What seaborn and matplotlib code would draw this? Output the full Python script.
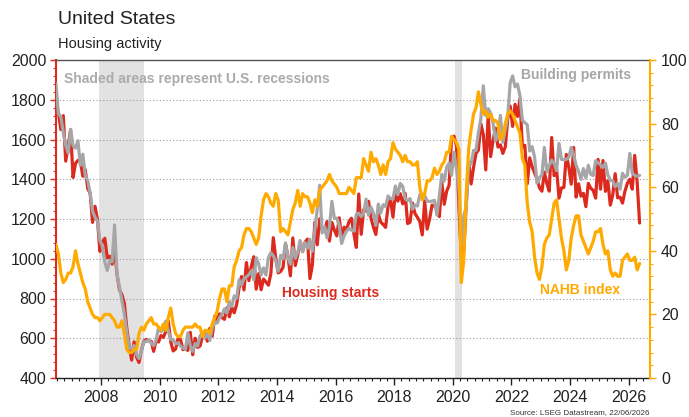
import numpy as np
import pandas as pd
import matplotlib
matplotlib.use("Agg")
import matplotlib.pyplot as plt
import seaborn as sns
from matplotlib.ticker import MultipleLocator

sns.set_theme(style="white")
plt.rcParams["font.family"] = ["Liberation Sans", "DejaVu Sans"]

# ---------------- data (monthly, Jun 2006 .. May 2026) ----------------
first_year, first_month = 2006, 6

starts = [
    1780, 1737, 1650, 1720, 1491, 1570, 1649,
    1409, 1480, 1495, 1490, 1415, 1448, 1354, 1330, 1183, 1264, 1197, 1037,
    1084, 1103, 1005, 1013, 973, 1046, 923, 844, 820, 777, 652, 560,
    490, 582, 505, 478, 540, 585, 594, 586, 585, 534, 588, 581,
    614, 604, 636, 687, 583, 536, 546, 599, 594, 543, 545, 539,
    630, 517, 600, 554, 561, 608, 623, 585, 650, 610, 711, 694,
    723, 704, 695, 753, 708, 757, 728, 770, 854, 911, 843, 981,
    890, 962, 1010, 847, 925, 844, 898, 883, 867, 925, 1106, 1004,
    929, 936, 957, 1075, 1013, 914, 1105, 966, 1018, 1084, 1037, 1083,
    1099, 900, 969, 1183, 1070, 1201, 1146, 1138, 1187, 1089, 1183, 1144,
    1115, 1206, 1104, 1159, 1146, 1187, 1204, 1126, 1057, 1326, 1123, 1247,
    1240, 1289, 1205, 1159, 1122, 1225, 1185, 1172, 1158, 1265, 1299, 1209,
    1334, 1290, 1327, 1276, 1329, 1177, 1184, 1280, 1228, 1209, 1187, 1120,
    1291, 1149, 1199, 1270, 1265, 1253, 1212, 1386, 1274, 1340, 1370, 1603,
    1617, 1567, 1269, 1000, 1038, 1273, 1487, 1376, 1459, 1530, 1547, 1680,
    1625, 1447, 1725, 1514, 1594, 1657, 1562, 1573, 1530, 1563, 1703, 1768,
    1666, 1777, 1716, 1805, 1562, 1571, 1377, 1508, 1463, 1432, 1401, 1357,
    1340, 1436, 1380, 1340, 1610, 1418, 1451, 1305, 1356, 1359, 1525, 1460,
    1375, 1560, 1310, 1377, 1315, 1329, 1262, 1379, 1355, 1344, 1305, 1500,
    1350, 1494, 1339, 1392, 1270, 1321, 1428, 1307, 1310, 1280, 1340, 1380,
    1400, 1350, 1520, 1385, 1180,
]

permits = [
    1880, 1730, 1715, 1636, 1570, 1532, 1650,
    1569, 1556, 1594, 1471, 1526, 1420, 1394, 1329, 1239, 1209, 1189, 1092,
    1063, 984, 941, 992, 985, 1170, 924, 857, 792, 723, 630, 551,
    546, 564, 519, 498, 535, 582, 584, 593, 575, 563, 589, 654,
    633, 648, 687, 637, 593, 593, 572, 577, 561, 552, 544, 627,
    563, 534, 574, 561, 612, 622, 601, 625, 589, 653, 681, 676,
    703, 719, 748, 726, 784, 760, 813, 801, 894, 868, 900, 909,
    919, 939, 894, 1005, 974, 918, 954, 918, 1005, 1031, 1014, 991,
    937, 1017, 999, 1080, 1005, 973, 1057, 1002, 1032, 1092, 1035, 1081,
    1053, 1098, 1038, 1143, 1250, 1370, 1130, 1161, 1105, 1161, 1289, 1204,
    1204, 1167, 1077, 1116, 1138, 1153, 1144, 1139, 1225, 1229, 1212, 1228,
    1300, 1219, 1260, 1228, 1168, 1275, 1230, 1272, 1262, 1316, 1303, 1300,
    1366, 1323, 1379, 1364, 1301, 1292, 1303, 1249, 1270, 1265, 1322, 1326,
    1317, 1291, 1288, 1290, 1294, 1220, 1317, 1425, 1391, 1461, 1482, 1420,
    1536, 1452, 1356, 1066, 1216, 1258, 1483, 1476, 1545, 1545, 1635, 1704,
    1870, 1720, 1755, 1733, 1683, 1594, 1630, 1721, 1586, 1653, 1717, 1885,
    1920, 1865, 1879, 1819, 1695, 1685, 1674, 1542, 1564, 1512, 1380, 1409,
    1420, 1560, 1437, 1470, 1496, 1480, 1443, 1580, 1500, 1498, 1500, 1510,
    1560, 1523, 1470, 1440, 1399, 1454, 1406, 1470, 1425, 1419, 1493, 1482,
    1473, 1459, 1481, 1422, 1394, 1393, 1362, 1380, 1350, 1430, 1410, 1420,
    1530, 1430, 1420, 1415, 1420,
]

nahb = [
    42, 39, 33, 30, 31, 33, 33,
    35, 40, 36, 33, 30, 28, 24, 22, 20, 19, 19, 18,
    19, 20, 20, 20, 19, 18, 16, 16, 18, 14, 9, 8,
    8, 9, 9, 14, 16, 15, 17, 18, 19, 17, 17, 16,
    15, 17, 15, 19, 22, 17, 14, 13, 13, 15, 16, 16,
    16, 16, 17, 16, 16, 13, 15, 15, 14, 17, 19, 21,
    25, 28, 28, 24, 29, 29, 35, 37, 40, 41, 45, 47,
    47, 46, 44, 42, 44, 51, 56, 58, 57, 55, 54, 58,
    56, 46, 47, 46, 45, 49, 53, 55, 59, 54, 58, 57,
    57, 55, 52, 56, 54, 59, 60, 61, 62, 64, 62, 61,
    60, 58, 58, 58, 58, 60, 59, 58, 63, 63, 63, 69,
    67, 65, 71, 68, 69, 67, 64, 67, 64, 68, 69, 74,
    72, 71, 70, 68, 70, 68, 68, 67, 67, 68, 60, 56,
    58, 62, 62, 63, 66, 64, 65, 67, 68, 71, 71, 76,
    75, 74, 72, 30, 37, 58, 72, 78, 83, 85, 90, 86,
    83, 84, 82, 83, 81, 81, 80, 75, 76, 80, 83, 84,
    83, 81, 79, 77, 69, 67, 55, 49, 46, 38, 33, 31,
    35, 42, 44, 45, 50, 55, 56, 50, 44, 40, 34, 37,
    44, 48, 51, 51, 45, 43, 41, 39, 41, 43, 46, 46,
    47, 42, 39, 40, 34, 32, 33, 32, 32, 37, 38, 39,
    37, 37, 38, 34, 36,
]

recessions = [(2007.92, 2009.46), (2020.08, 2020.30)]

title = "United States"
subtitle = "Housing activity"
source = "Source: LSEG Datastream, 22/06/2026"

# ---------------- build frame ----------------
n = len(starts)
months = np.arange(n) + (first_month - 1)
t = first_year + (months + 0.5) / 12.0
df = pd.DataFrame({"t": t, "starts": starts, "permits": permits, "nahb": nahb})

RED = "#DC2A1E"
GRAY = "#A6A6A9"
ORANGE = "#FFAA00"
SHADE = "#E2E2E2"

W, H = 689, 417
fig = plt.figure(figsize=(W / 100, H / 100), dpi=100)
ax = fig.add_axes([56 / W, 39 / H, 594 / W, 318 / H])
ax.set_facecolor("white")

for a, b in recessions:
    ax.axvspan(a, b, color=SHADE, lw=0, zorder=0)

sns.lineplot(data=df, x="t", y="starts", ax=ax, color=RED, lw=2.3, zorder=3)
sns.lineplot(data=df, x="t", y="permits", ax=ax, color=GRAY, lw=2.3, zorder=4)

ax2 = ax.twinx()
sns.lineplot(data=df, x="t", y="nahb", ax=ax2, color=ORANGE, lw=2.3, zorder=5)

ax.set_xlim(2006.46, 2026.73)
ax.set_ylim(400, 2000)
ax2.set_ylim(0, 100)

ax.set_xlabel("")
ax.set_ylabel("")
ax2.set_ylabel("")

ax.xaxis.set_major_locator(MultipleLocator(2))
ax.xaxis.set_minor_locator(MultipleLocator(0.25))
ax.yaxis.set_major_locator(MultipleLocator(200))
ax.yaxis.set_minor_locator(MultipleLocator(40))
ax2.yaxis.set_major_locator(MultipleLocator(20))
ax2.yaxis.set_minor_locator(MultipleLocator(4))
ax.xaxis.set_major_formatter(matplotlib.ticker.FuncFormatter(lambda v, p: f"{int(round(v))}"))

ax.yaxis.grid(True, which="major", linestyle=(0, (1, 2)), color="#9a9a9a", lw=0.8)
ax.xaxis.grid(False)
ax.set_axisbelow(True)

ax.tick_params(axis="x", which="major", direction="out", length=5, width=1, color="#222",
               labelsize=11.5, labelcolor="#222", pad=4, bottom=True)
ax.tick_params(axis="x", which="minor", direction="out", length=2.5, width=0.8, color="#222", bottom=True)
ax.tick_params(axis="y", which="major", direction="out", length=4, width=1, color=RED,
               labelsize=11.5, labelcolor="#222", pad=3, left=True)
ax.tick_params(axis="y", which="minor", direction="out", length=2.5, width=0.8, color=RED, left=True)
ax2.tick_params(axis="y", which="major", direction="out", length=4, width=1, color=ORANGE,
                labelsize=11.5, labelcolor="#222", pad=4, right=True)
ax2.tick_params(axis="y", which="minor", direction="out", length=2.5, width=0.8, color=ORANGE, right=True)

for s in ["top", "bottom", "left", "right"]:
    ax.spines[s].set_visible(True)
ax.spines["left"].set_color(RED)
ax.spines["left"].set_linewidth(1.5)
ax.spines["bottom"].set_color("#222")
ax.spines["bottom"].set_linewidth(1.0)
ax.spines["top"].set_color("#555")
ax.spines["top"].set_linewidth(1.0)
ax.spines["right"].set_visible(False)
ax2.spines["left"].set_visible(False)
ax2.spines["top"].set_visible(False)
ax2.spines["bottom"].set_visible(False)
ax2.spines["right"].set_color(ORANGE)
ax2.spines["right"].set_linewidth(1.5)


def px(x, y):
    return x / W, 1 - y / H


fig.text(*px(58, 19), title, fontsize=14, color="#222", va="center", ha="left")
fig.text(*px(58, 44), subtitle, fontsize=10.5, color="#222", va="center", ha="left")
fig.text(*px(650, 413), source, fontsize=5.8, color="#333", va="center", ha="right")

fig.text(*px(64, 79), "Shaded areas represent U.S. recessions", fontsize=10, fontweight="bold",
         color="#ABABAE", va="center", ha="left")
fig.text(*px(521, 75), "Building permits", fontsize=10, fontweight="bold",
         color=GRAY, va="center", ha="left")
fig.text(*px(282, 293), "Housing starts", fontsize=10, fontweight="bold",
         color=RED, va="center", ha="left")
fig.text(*px(540, 290), "NAHB index", fontsize=10, fontweight="bold",
         color=ORANGE, va="center", ha="left")

fig.savefig("out.png", dpi=100, facecolor="white")
